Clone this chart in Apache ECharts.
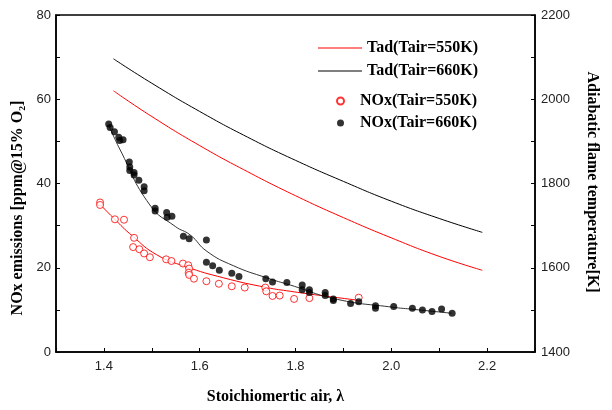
<!DOCTYPE html>
<html>
<head>
<meta charset="utf-8">
<script src="https://cdn.jsdelivr.net/npm/echarts@6/dist/echarts.min.js"></script>
<style>
  html, body { margin: 0; padding: 0; background: #fff; }
  #chart { width: 612px; height: 410px; }
</style>
</head>
<body>
<div id="chart"></div>
<script>
// Adiabatic flame temperature (right axis)
const tadLambda = [1.42, 1.5, 1.6, 1.7, 1.8, 1.9, 2.0, 2.1, 2.19]
const tad550 = [2020, 1959, 1890, 1828, 1771, 1719, 1671, 1627, 1594]
const tad660 = [2096, 2038, 1971, 1910, 1855, 1805, 1758, 1717, 1684]

// Measured NOx, Tair = 550K (open red circles)
const nox550Lambda = [1.392, 1.392, 1.423, 1.442, 1.463, 1.461, 1.474, 1.484, 1.496, 1.530,
    1.541, 1.565, 1.576, 1.578, 1.577, 1.578, 1.588, 1.614, 1.640, 1.667,
    1.694, 1.737, 1.739, 1.752, 1.767, 1.797, 1.829, 1.932]
const nox550 = [35.5, 34.9, 31.5, 31.4, 27.1, 24.9, 24.4, 23.4, 22.5, 22.0,
    21.6, 21.0, 20.6, 19.8, 18.8, 18.3, 17.4, 16.8, 16.2, 15.6,
    15.3, 15.3, 14.4, 13.3, 13.4, 12.6, 12.8, 12.9]

// Measured NOx, Tair = 660K (filled black dots)
const nox660Lambda = [1.410, 1.413, 1.422, 1.431, 1.440, 1.433, 1.453, 1.454, 1.454, 1.463,
    1.463, 1.473, 1.484, 1.484, 1.507, 1.507, 1.531, 1.532, 1.542, 1.566,
    1.578, 1.614, 1.614, 1.627, 1.641, 1.667, 1.682, 1.738, 1.752, 1.782,
    1.814, 1.814, 1.829, 1.829, 1.862, 1.862, 1.879, 1.879, 1.915, 1.932,
    1.967, 1.967, 2.005, 2.044, 2.065, 2.085, 2.105, 2.127]
const nox660 = [54.1, 53.3, 52.3, 51.0, 50.4, 50.2, 45.1, 43.9, 43.1, 42.6,
    42.0, 40.8, 39.2, 38.3, 34.1, 33.5, 33.1, 32.0, 32.2, 27.5,
    26.9, 26.6, 21.3, 20.5, 19.4, 18.7, 17.9, 17.4, 16.6, 16.5,
    15.9, 14.8, 14.8, 14.1, 14.1, 13.4, 12.6, 12.2, 11.5, 11.9,
    11.0, 10.4, 10.8, 10.4, 10.0, 9.6, 10.2, 9.2]

// Fitted trend lines through the NOx data
const fit550Lambda = [1.39, 1.42, 1.46, 1.51, 1.57, 1.65, 1.74, 1.79, 1.84, 1.93]
const fit550 = [35.3, 31.8, 27.5, 23.1, 20.3, 17.6, 15.3, 14.4, 13.6, 12.3]
const fit660Lambda = [1.41, 1.433, 1.496, 1.549, 1.58, 1.615, 1.67, 1.74, 1.789, 1.887, 2.005, 2.04, 2.126]
const fit660 = [53.9, 48.2, 34.9, 29.8, 27.8, 23.9, 20.5, 17.6, 15.9, 12.5, 10.6, 10.2, 9.2]

const zip = (xs, ys) => xs.map((x, i) => [x, ys[i]])

const tickFont = { fontFamily: 'Liberation Sans', fontSize: 13, color: '#222' }
const titleFont = 'bold 16px "Liberation Serif"'
const legendFont = { fontFamily: 'Liberation Serif', fontWeight: 'bold', fontSize: 16, color: '#000', lineHeight: 14 }
const axisLine = { show: true, lineStyle: { color: '#000', width: 1.5 } }
const axisTick = { inside: true, length: 4, lineStyle: { color: '#000' } }

const renderChart = () => {
    const myChart = echarts.init(document.getElementById('chart'))

    const option = {
        animation: false,
        backgroundColor: '#fff',
        grid: { left: 56, right: 77, top: 15, bottom: 55, show: true, borderColor: '#000', borderWidth: 1.5 },
        legend: [{
            data: [
                { name: 'Tad(Tair=550K)', icon: 'rect' },
                { name: 'Tad(Tair=660K)', icon: 'rect' },
            ],
            orient: 'vertical',
            left: 313,
            top: 35,
            itemWidth: 44,
            itemHeight: 1,
            itemGap: 7,
            textStyle: legendFont,
        }, {
            data: ['NOx(Tair=550K)', 'NOx(Tair=660K)'],
            orient: 'vertical',
            left: 331,
            top: 88,
            itemWidth: 7,
            itemHeight: 7,
            itemGap: 6,
            textStyle: { ...legendFont, padding: [0, 0, 0, 11] },
        }],
        xAxis: {
            type: 'value',
            min: 1.3,
            max: 2.3,
            interval: 0.1,
            name: 'Stoichiomertic air, λ',
            nameLocation: 'middle',
            nameGap: 37,
            nameTextStyle: { fontFamily: 'Liberation Serif', fontWeight: 'bold', fontSize: 16, color: '#000', padding: [0, 40, 0, 0] },
            axisLine: axisLine,
            axisTick: axisTick,
            splitLine: { show: false },
            axisLabel: {
                ...tickFont,
                margin: 8,
                formatter: v => (Math.round(v * 10) % 2 === 0 ? v.toFixed(1) : ''),
            },
        },
        yAxis: [{
            type: 'value',
            min: 0,
            max: 80,
            interval: 10,
            axisLine: axisLine,
            axisTick: axisTick,
            splitLine: { show: false },
            axisLabel: { ...tickFont, margin: 5, formatter: v => (v % 20 === 0 ? v : '') },
        }, {
            type: 'value',
            min: 1400,
            max: 2200,
            interval: 100,
            position: 'right',
            axisLine: axisLine,
            axisTick: axisTick,
            splitLine: { show: false },
            axisLabel: { ...tickFont, margin: 6, formatter: v => (v % 200 === 0 ? v : '') },
        }],
        graphic: [{
            type: 'text',
            x: 18,
            y: 208,
            rotation: Math.PI / 2,
            style: { text: 'NOx emissions [ppm@15% O₂]', font: titleFont, fill: '#000', align: 'center', verticalAlign: 'middle' },
        }, {
            type: 'text',
            x: 592,
            y: 182,
            rotation: -Math.PI / 2,
            style: { text: 'Adiabatic flame temperature[K]', font: titleFont, fill: '#000', align: 'center', verticalAlign: 'middle' },
        }],
        series: [{
            name: 'Tad(Tair=550K)',
            type: 'line',
            yAxisIndex: 1,
            smooth: true,
            symbol: 'none',
            lineStyle: { color: '#ff0000', width: 1 },
            itemStyle: { color: '#ff0000' },
            data: zip(tadLambda, tad550),
        }, {
            name: 'Tad(Tair=660K)',
            type: 'line',
            yAxisIndex: 1,
            smooth: true,
            symbol: 'none',
            lineStyle: { color: '#000', width: 1 },
            itemStyle: { color: '#000' },
            data: zip(tadLambda, tad660),
        }, {
            name: 'fit550',
            type: 'line',
            smooth: true,
            symbol: 'none',
            lineStyle: { color: '#ff0000', width: 1 },
            data: zip(fit550Lambda, fit550),
        }, {
            name: 'fit660',
            type: 'line',
            smooth: true,
            symbol: 'none',
            lineStyle: { color: '#333', width: 1 },
            data: zip(fit660Lambda, fit660),
        }, {
            name: 'NOx(Tair=550K)',
            type: 'scatter',
            symbol: 'circle',
            symbolSize: 7,
            itemStyle: { color: '#fff', borderColor: '#ff0000', borderWidth: 1 },
            data: zip(nox550Lambda, nox550),
            z: 3,
        }, {
            name: 'NOx(Tair=660K)',
            type: 'scatter',
            symbol: 'circle',
            symbolSize: 7,
            itemStyle: { color: '#000' },
            data: zip(nox660Lambda, nox660),
            z: 4,
        }],
    }

    myChart.setOption(option)
}

renderChart()
</script>
</body>
</html>
